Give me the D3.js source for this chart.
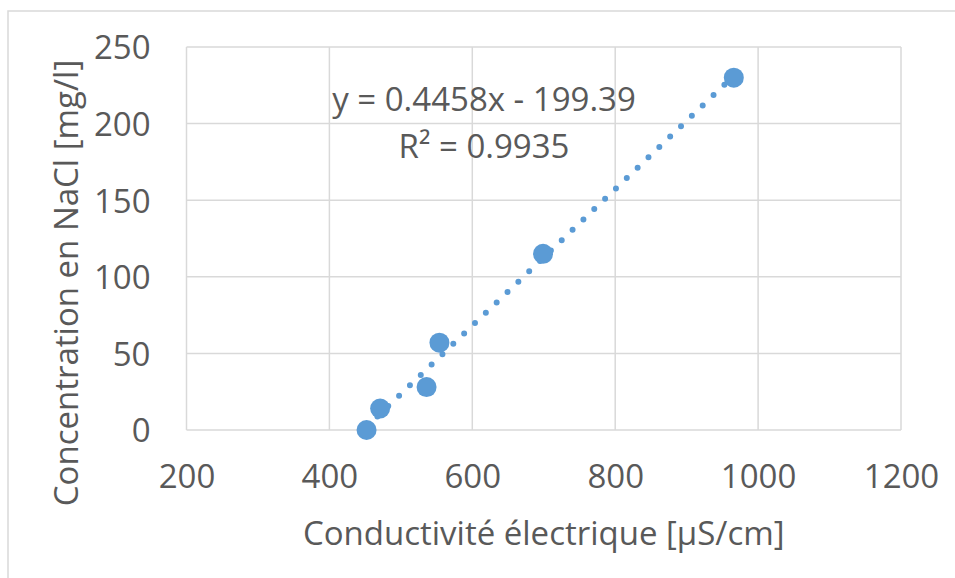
<!DOCTYPE html>
<html>
<head>
    <meta charset="utf-8">
    <title>Conductivité / NaCl</title>
    <script src="https://cdn.jsdelivr.net/npm/d3@7/dist/d3.min.js"></script>
    <style>
        body { margin: 0; background: #fff; }
        text { font-family: "Open Sans", sans-serif; fill: #595959; }
        .grid line { stroke: #d9d9d9; stroke-width: 1.5; }
    </style>
</head>
<body>
<svg id="chart" width="955" height="578"></svg>
<script>
    // measured points (conductivity, NaCl concentration)
    var conductivity = [452, 471, 536, 554, 699, 966];
    var concentration = [0, 14, 28, 57, 115, 230];

    var xTicks = [200, 400, 600, 800, 1000, 1200];
    var yTicks = [0, 50, 100, 150, 200, 250];

    var slope = 0.4458, intercept = -199.39;
    var equationLabel = "y = 0.4458x - 199.39";
    var r2Label = "R² = 0.9935";

    var xTitle = "Conductivité électrique [µS/cm]";
    var yTitle = "Concentration en NaCl [mg/l]";

    var svg = d3.select("#chart");
    var fs = "33px";

    var margin = {left: 186.5, right: 901, top: 47, bottom: 430};

    var x = d3.scaleLinear().domain([200, 1200]).range([margin.left, margin.right]);
    var y = d3.scaleLinear().domain([0, 250]).range([margin.bottom, margin.top]);

    // outer chart border
    svg.append("rect")
        .attr("x", 8).attr("y", 11)
        .attr("width", 960).attr("height", 580)
        .attr("fill", "none")
        .attr("stroke", "#d9d9d9")
        .attr("stroke-width", 1.5);

    // gridlines
    var grid = svg.append("g").attr("class", "grid");
    grid.selectAll(".h").data(yTicks).enter().append("line")
        .attr("x1", x(200)).attr("x2", x(1200))
        .attr("y1", function (d) { return y(d); })
        .attr("y2", function (d) { return y(d); });
    grid.selectAll(".v").data(xTicks).enter().append("line")
        .attr("y1", y(0)).attr("y2", y(250))
        .attr("x1", function (d) { return x(d); })
        .attr("x2", function (d) { return x(d); });

    // axes with labels only
    var xAxis = svg.append("g")
        .attr("transform", "translate(0," + y(0) + ")")
        .call(d3.axisBottom(x).tickValues(xTicks).tickSize(0).tickPadding(36).tickFormat(d3.format("d")));
    var yAxis = svg.append("g")
        .attr("transform", "translate(" + x(200) + ",0)")
        .call(d3.axisLeft(y).tickValues(yTicks).tickSize(0).tickPadding(36).tickFormat(d3.format("d")));
    [xAxis, yAxis].forEach(function (a) {
        a.select(".domain").remove();
        a.selectAll("text")
            .style("font-family", "'Open Sans', sans-serif")
            .style("font-size", fs)
            .attr("fill", "#595959");
    });
    yAxis.selectAll("text").attr("dy", "0.36em");
    xAxis.selectAll("text").attr("dy", "0.68em");

    // trendline, dotted, over the data range
    var xr = d3.extent(conductivity);
    svg.append("line")
        .attr("x1", x(xr[0])).attr("y1", y(slope * xr[0] + intercept))
        .attr("x2", x(xr[1])).attr("y2", y(slope * xr[1] + intercept))
        .attr("stroke", "#5b9bd5")
        .attr("stroke-width", 6)
        .attr("stroke-linecap", "round")
        .attr("stroke-dasharray", "0 15");

    // markers
    svg.selectAll(".pt")
        .data(d3.zip(conductivity, concentration))
        .enter().append("circle")
        .attr("cx", function (d) { return x(d[0]); })
        .attr("cy", function (d) { return y(d[1]); })
        .attr("r", 10)
        .attr("fill", "#5b9bd5");

    // trendline label
    svg.append("text")
        .attr("x", 484).attr("y", 111)
        .attr("text-anchor", "middle")
        .style("font-size", fs)
        .text(equationLabel);
    svg.append("text")
        .attr("x", 484).attr("y", 158)
        .attr("text-anchor", "middle")
        .style("font-size", fs)
        .text(r2Label);

    // axis titles
    svg.append("text")
        .attr("x", (margin.left + margin.right) / 2)
        .attr("y", 545)
        .attr("text-anchor", "middle")
        .style("font-size", fs)
        .text(xTitle);
    svg.append("text")
        .attr("transform", "translate(78,283) rotate(-90)")
        .attr("text-anchor", "middle")
        .style("font-size", fs)
        .text(yTitle);
</script>
</body>
</html>
